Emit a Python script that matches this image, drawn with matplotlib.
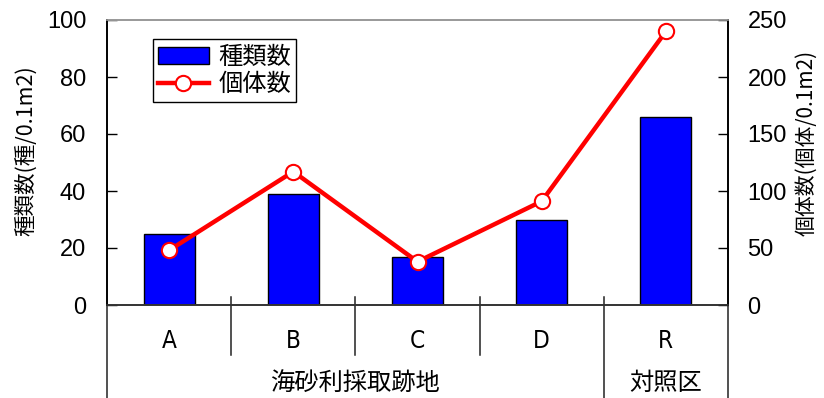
import matplotlib
matplotlib.use("Agg")
import matplotlib.pyplot as plt
from matplotlib.lines import Line2D
from matplotlib.patches import Patch

plt.rcParams['font.family'] = ['Noto Sans CJK JP', 'DejaVu Sans']

# 調査地点ごとの値
sites = ["A", "B", "C", "D", "R"]
species = [25, 39, 17, 30, 66]          # 種類数 (種/0.1m2)
individuals = [48, 117, 38, 91, 240]    # 個体数 (個体/0.1m2)
groups = [("海砂利採取跡地", 0, 3), ("対照区", 4, 4)]

num_font = "Liberation Sans"

fig = plt.figure(figsize=(8.24, 3.98), dpi=100)
ax = fig.add_axes([107 / 824, 93 / 398, 621 / 824, 285 / 398])
ax2 = ax.twinx()

x = list(range(len(sites)))
ax.bar(x, species, width=0.41, color="#0000ff", edgecolor="black", linewidth=1.0, zorder=2)
ax2.plot(x, individuals, color="#ff0000", linewidth=3.2, marker="o", markersize=11,
         markerfacecolor="white", markeredgecolor="#ff0000", markeredgewidth=1.5, zorder=3)

ax.set_xlim(-0.5, len(sites) - 0.5)
ax.set_ylim(0, 100)
ax2.set_ylim(0, 250)
ax.set_yticks(range(0, 101, 20))
ax2.set_yticks(range(0, 251, 50))
ax.set_xticks([])

ax.tick_params(axis="y", direction="in", length=7, width=1, labelsize=17, pad=15)
ax2.tick_params(axis="y", direction="in", length=7, width=1, labelsize=17, pad=14)
for a in (ax, ax2):
    for lab in a.get_yticklabels():
        lab.set_fontfamily(num_font)
    for s in a.spines.values():
        s.set_linewidth(1.2)
    a.spines["top"].set_color("#999999")
    a.spines["bottom"].set_color("#333333")

ax.set_ylabel("種類数(種/0.1m2)", fontsize=15.5)
ax.yaxis.set_label_coords(-0.113, 0.54)
ax2.set_ylabel("個体数(個体/0.1m2)", fontsize=15, rotation=90)
ax2.yaxis.set_label_coords(1.108, 0.57)

# 下部の地点区分表
trans = ax.get_xaxis_transform()
bottom = -93 / 285
row = -50 / 285
top = 8 / 285
lines = [(-0.5, 0, bottom), (len(sites) - 0.5, 0, bottom)]
for i in range(len(sites) - 1):
    lo = bottom if i == 3 else row
    lines.append((i + 0.5, top, lo))
for xv, y0, y1 in lines:
    ax.plot([xv, xv], [y0, y1], transform=trans, color="#222222", lw=1.1, clip_on=False)

for i, s in enumerate(sites):
    ax.text(i, -36 / 285, s, transform=trans, ha="center", va="center",
            fontsize=17.5, fontfamily="DejaVu Sans", fontstretch="condensed")
for label, i0, i1 in groups:
    ax.text((i0 + i1) / 2, -78 / 285, label, transform=trans, ha="center", va="center",
            fontsize=17.5)

handles = [Patch(facecolor="#0000ff", edgecolor="black", linewidth=1.0),
           Line2D([], [], color="#ff0000", linewidth=3.2, marker="o", markersize=11,
                  markerfacecolor="white", markeredgecolor="#ff0000", markeredgewidth=1.5)]
leg = ax2.legend(handles, ["種類数", "個体数"], loc="upper left",
                 bbox_to_anchor=(46 / 621, 1 - 19 / 285), fontsize=17.5, fancybox=False,
                 framealpha=1, edgecolor="black", handlelength=2.1, borderpad=0.2,
                 labelspacing=0.05, handletextpad=0.4, borderaxespad=0)
leg.get_frame().set_linewidth(1.0)

fig.savefig("out.png", dpi=100)
